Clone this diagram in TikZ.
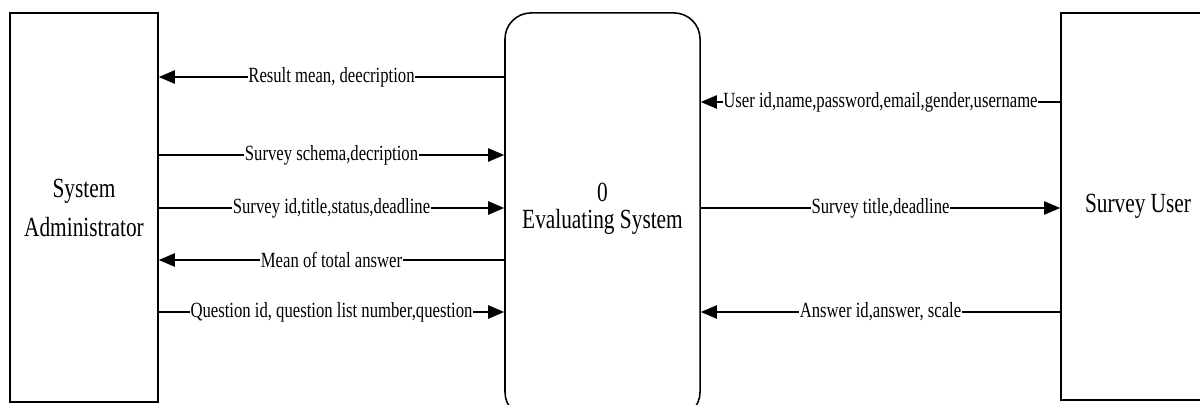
\documentclass[tikz,border=0pt]{standalone}
\usepackage{fontspec}
\setmainfont{Liberation Serif}[FakeStretch=0.77]
\usetikzlibrary{arrows.meta,positioning}

\begin{document}
\begin{tikzpicture}[x=0.025cm, y=-0.025cm, line width=1.1pt,
    ent/.style={draw, align=center, font=\fontsize{19.7}{27.7}\selectfont},
    flow/.style={-{Triangle[length=4mm,width=3.3mm]}},
    lbl/.style={fill=white, inner sep=0.5pt, font=\fontsize{15.4}{18}\selectfont}]
  \useasboundingbox (0,0) rectangle (1200,405);

  \node[ent, minimum width=3.7cm, minimum height=9.725cm] (admin) at (84,207.5) {System\\Administrator};
  \node[ent, rounded corners=0.65cm, minimum width=4.875cm, minimum height=10.125cm, text depth=0.48cm] (proc) at (602.5,215.5) {0\\[-9pt]Evaluating System};
  \node[ent, minimum width=3.85cm, minimum height=9.675cm] (user) at (1138,206.5) {Survey User};

  \coordinate (y1) at (0,77);
  \coordinate (y2) at (0,155);
  \coordinate (y3) at (0,208);
  \coordinate (y4) at (0,260);
  \coordinate (y5) at (0,312);
  \coordinate (u1) at (0,102);

  \draw[flow] (proc.west |- y1) -- node[lbl] {Result mean, deecription} (admin.east |- y1);
  \draw[flow] (admin.east |- y2) -- node[lbl] {Survey schema,decription} (proc.west |- y2);
  \draw[flow] (admin.east |- y3) -- node[lbl] {Survey id,title,status,deadline} (proc.west |- y3);
  \draw[flow] (proc.west |- y4) -- node[lbl] {Mean of total answer} (admin.east |- y4);
  \draw[flow] (admin.east |- y5) -- node[lbl] {Question id, question list number,question} (proc.west |- y5);

  \draw[flow] (user.west |- u1) -- node[lbl] {User id,name,password,email,gender,username} (proc.east |- u1);
  \draw[flow] (proc.east |- y3) -- node[lbl] {Survey title,deadline} (user.west |- y3);
  \draw[flow] (user.west |- y5) -- node[lbl] {Answer id,answer, scale} (proc.east |- y5);
\end{tikzpicture}
\end{document}
